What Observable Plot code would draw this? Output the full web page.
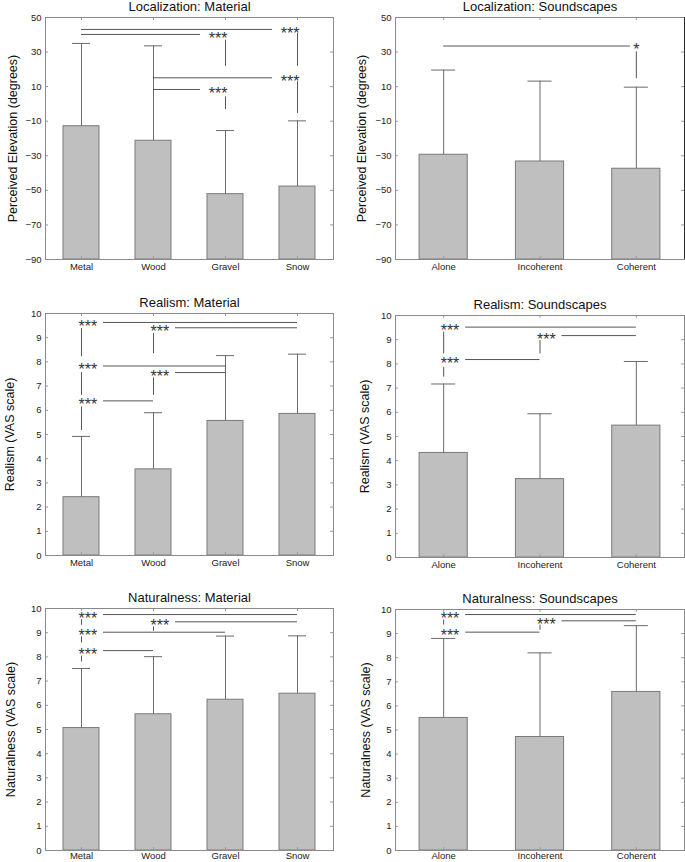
<!DOCTYPE html>
<html><head><meta charset="utf-8">
<script src="https://cdn.jsdelivr.net/npm/d3@7"></script>
<script src="https://cdn.jsdelivr.net/npm/@observablehq/plot@0.6"></script>
<style>
body{margin:0;background:#fff;}
#wrap{position:relative;width:685px;height:862px;overflow:hidden;background:#fff;}
</style></head><body><div id="wrap"></div>
<script>
// ---------- data ----------
const materials = ["Metal", "Wood", "Gravel", "Snow"];
const soundscapes = ["Alone", "Incoherent", "Coherent"];
const elevationTicks = [-90, -70, -50, -30, -10, 10, 30, 50];
const vasTicks = [0, 1, 2, 3, 4, 5, 6, 7, 8, 9, 10];

const locMatMean = [-12.9, -21.3, -52.2, -47.8];
const locMatSd = [47.9, 54.9, 36.8, 38.0];
const locSndMean = [-29.4, -33.3, -37.5];
const locSndSd = [49.0, 46.5, 47.2];
const realMatMean = [2.41, 3.56, 5.56, 5.85];
const realMatSd = [2.51, 2.34, 2.70, 2.47];
const realSndMean = [4.32, 3.24, 5.45];
const realSndSd = [2.85, 2.70, 2.65];
const natMatMean = [5.06, 5.63, 6.23, 6.48];
const natMatSd = [2.46, 2.38, 2.63, 2.39];
const natSndMean = [5.50, 4.71, 6.58];
const natSndSd = [3.30, 3.49, 2.75];

// significance brackets: line between "from" and "star"; label drawn at "star"; v = connector segments below label
const locMatSig = [
  {from: "Metal", star: "Snow", y: 43.1, label: "***", v: [[40.7, 21.8]]},
  {from: "Metal", star: "Gravel", y: 40.2, label: "***", v: [[36.9, 21.8]]},
  {from: "Wood", star: "Snow", y: 15.1, label: "***", v: [[12.8, -5.5]]},
  {from: "Wood", star: "Gravel", y: 8.35, label: "***", v: [[4.1, -3.2]]}
];
const locSndSig = [
  {from: "Alone", star: "Coherent", y: 33.5, label: "*", v: [[30.1, 14.6]]}
];
const realMatSig = [
  {from: "Snow", star: "Metal", y: 9.63, label: "***", v: [[9.38, 8.21]]},
  {from: "Snow", star: "Wood", y: 9.41, label: "***", v: [[9.17, 8.34]]},
  {from: "Gravel", star: "Metal", y: 7.83, label: "***", v: [[7.56, 6.62]]},
  {from: "Gravel", star: "Wood", y: 7.56, label: "***", v: [[7.34, 6.62]]},
  {from: "Wood", star: "Metal", y: 6.39, label: "***", v: [[6.14, 5.17]]}
];
const realSndSig = [
  {from: "Coherent", star: "Alone", y: 9.52, label: "***", v: [[9.31, 8.41]]},
  {from: "Coherent", star: "Incoherent", y: 9.17, label: "***", v: [[8.97, 8.41]]},
  {from: "Incoherent", star: "Alone", y: 8.18, label: "***", v: [[7.86, 7.45]]}
];
const natMatSig = [
  {from: "Snow", star: "Metal", y: 9.75, label: "***", v: [[9.54, 9.31]]},
  {from: "Snow", star: "Wood", y: 9.45, label: "***", v: [[9.24, 9.06]]},
  {from: "Gravel", star: "Metal", y: 9.02, label: "***", v: [[8.83, 8.58]]},
  {from: "Wood", star: "Metal", y: 8.26, label: "***", v: [[8.03, 7.79]]}
];
const natSndSig = [
  {from: "Coherent", star: "Alone", y: 9.79, label: "***", v: [[9.56, 9.35]]},
  {from: "Coherent", star: "Incoherent", y: 9.53, label: "***", v: [[9.35, 9.14]]},
  {from: "Incoherent", star: "Alone", y: 9.06, label: "***", v: []}
];

// ---------- drawing ----------
const FONT = "'Liberation Sans', Arial, Helvetica, sans-serif";
const wrap = document.getElementById("wrap");

function panel(o) {
  const n = o.cats.length;
  const idx = o.cats.map((_, i) => i + 1);
  const [ymin, ymax] = o.yDomain;
  const innerW = o.width - o.m[3] - o.m[1];
  const innerH = o.height - o.m[0] - o.m[2];
  const unit = innerW / n;
  const rows = o.cats.map((c, i) => ({x: i + 1, mean: o.means[i], top: o.means[i] + o.sds[i]}));
  const pos = c => o.cats.indexOf(c) + 1;
  const br = o.sig.map(b => {
    const xa = pos(b.from), xs = pos(b.star);
    const single = b.label.length === 1;
    const right = xs > xa;
    const gap = (single ? 6 : (right ? 25 : 22)) / unit;
    return {
      ...b, xs,
      x1: right ? xa : xs + gap,
      x2: right ? xs - gap : xa,
      anchor: single ? "middle" : right ? "end" : "start"
    };
  });
  const vsegs = br.flatMap(b => b.v.map(([a, c]) => ({x: b.xs, y1: a, y2: c})));
  const textMarks = ["start", "middle", "end"].map(a =>
    Plot.text(br.filter(b => b.anchor === a), {
      x: "xs", y: "y", text: "label", textAnchor: a, lineAnchor: "middle",
      dx: a === "end" ? 2 : a === "start" ? -3 : 0, dy: 4,
      fontSize: 16, fill: "#333"
    })
  );
  const svg = Plot.plot({
    width: o.width, height: o.height,
    marginTop: o.m[0], marginRight: o.m[1], marginBottom: o.m[2], marginLeft: o.m[3],
    style: {background: "transparent", fontFamily: FONT, fontSize: "9.5px", color: "#222", overflow: "visible"},
    x: {domain: [0.5, n + 0.5], ticks: idx, tickFormat: i => o.cats[i - 1], tickSize: 0, tickPadding: o.xPad, label: null},
    y: {domain: o.yDomain, ticks: o.yTicks, tickSize: 0, tickPadding: 4, label: null},
    marks: [
      Plot.rect(rows, {x1: d => d.x - 0.25, x2: d => d.x + 0.25, y1: ymin, y2: "mean", fill: "#bfbfbf", stroke: "#7a7a7a", strokeWidth: 1}),
      Plot.ruleX(rows, {x: "x", y1: "mean", y2: "top", stroke: "#6a6a6a"}),
      Plot.ruleY(rows, {y: "top", x1: d => d.x - 0.125, x2: d => d.x + 0.125, stroke: "#6a6a6a"}),
      Plot.ruleY(br, {y: "y", x1: "x1", x2: "x2", stroke: "#555"}),
      Plot.ruleX(vsegs, {x: "x", y1: "y1", y2: "y2", stroke: "#555"}),
      ...textMarks,
      Plot.tickX(idx, {x: d => d, insetTop: innerH - 3, stroke: "#999"}),
      Plot.tickX(idx, {x: d => d, insetBottom: innerH - 3, stroke: "#999"}),
      Plot.tickY(o.yTicks, {y: d => d, insetRight: innerW - 3, stroke: "#999"}),
      Plot.tickY(o.yTicks, {y: d => d, insetLeft: innerW - 3, stroke: "#999"}),
      Plot.frame({stroke: "#8a8a8a"}),
      ...(o.darkRight ? [Plot.ruleX([n + 0.5], {stroke: "#111", strokeWidth: 1.6, dx: 0.5})] : []),
      Plot.text([o.title], {frameAnchor: "top", textAnchor: "middle", lineAnchor: "middle", dy: -11, fontSize: 13, fill: "#111"}),
      Plot.text([o.ylabel], {frameAnchor: "left", textAnchor: "middle", lineAnchor: "middle", rotate: -90, dx: o.ylabelDx, fontSize: 12.5, fill: "#111"})
    ]
  });
  svg.style.position = "absolute";
  svg.style.left = o.left + "px";
  svg.style.top = o.top + "px";
  wrap.appendChild(svg);
}

panel({title: "Localization: Material", ylabel: "Perceived Elevation (degrees)", cats: materials,
  means: locMatMean, sds: locMatSd, sig: locMatSig, yDomain: [-90, 50], yTicks: elevationTicks,
  left: 0, top: 0, width: 343, height: 285, m: [17, 10, 26, 45], ylabelDx: -33, xPad: 4});
panel({title: "Localization: Soundscapes", ylabel: "Perceived Elevation (degrees)", cats: soundscapes,
  means: locSndMean, sds: locSndSd, sig: locSndSig, yDomain: [-90, 50], yTicks: elevationTicks,
  left: 343, top: 0, width: 342, height: 285, m: [17, 1, 26, 52], ylabelDx: -34, darkRight: true, xPad: 4});
panel({title: "Realism: Material", ylabel: "Realism (VAS scale)", cats: materials,
  means: realMatMean, sds: realMatSd, sig: realMatSig, yDomain: [0, 10], yTicks: vasTicks,
  left: 0, top: 285, width: 343, height: 290, m: [28, 10, 20, 45], ylabelDx: -36, xPad: 4});
panel({title: "Realism: Soundscapes", ylabel: "Realism (VAS scale)", cats: soundscapes,
  means: realSndMean, sds: realSndSd, sig: realSndSig, yDomain: [0, 10], yTicks: vasTicks,
  left: 343, top: 285, width: 342, height: 290, m: [30, 1, 18, 52], ylabelDx: -31, xPad: 4});
panel({title: "Naturalness: Material", ylabel: "Naturalness (VAS scale)", cats: materials,
  means: natMatMean, sds: natMatSd, sig: natMatSig, yDomain: [0, 10], yTicks: vasTicks,
  left: 0, top: 570, width: 343, height: 292, m: [38, 10, 12, 45], ylabelDx: -35, xPad: 1.5});
panel({title: "Naturalness: Soundscapes", ylabel: "Naturalness (VAS scale)", cats: soundscapes,
  means: natSndMean, sds: natSndSd, sig: natSndSig, yDomain: [0, 10], yTicks: vasTicks,
  left: 343, top: 570, width: 342, height: 292, m: [39, 1, 12, 52], ylabelDx: -30, xPad: 1.5});
</script></body></html>
